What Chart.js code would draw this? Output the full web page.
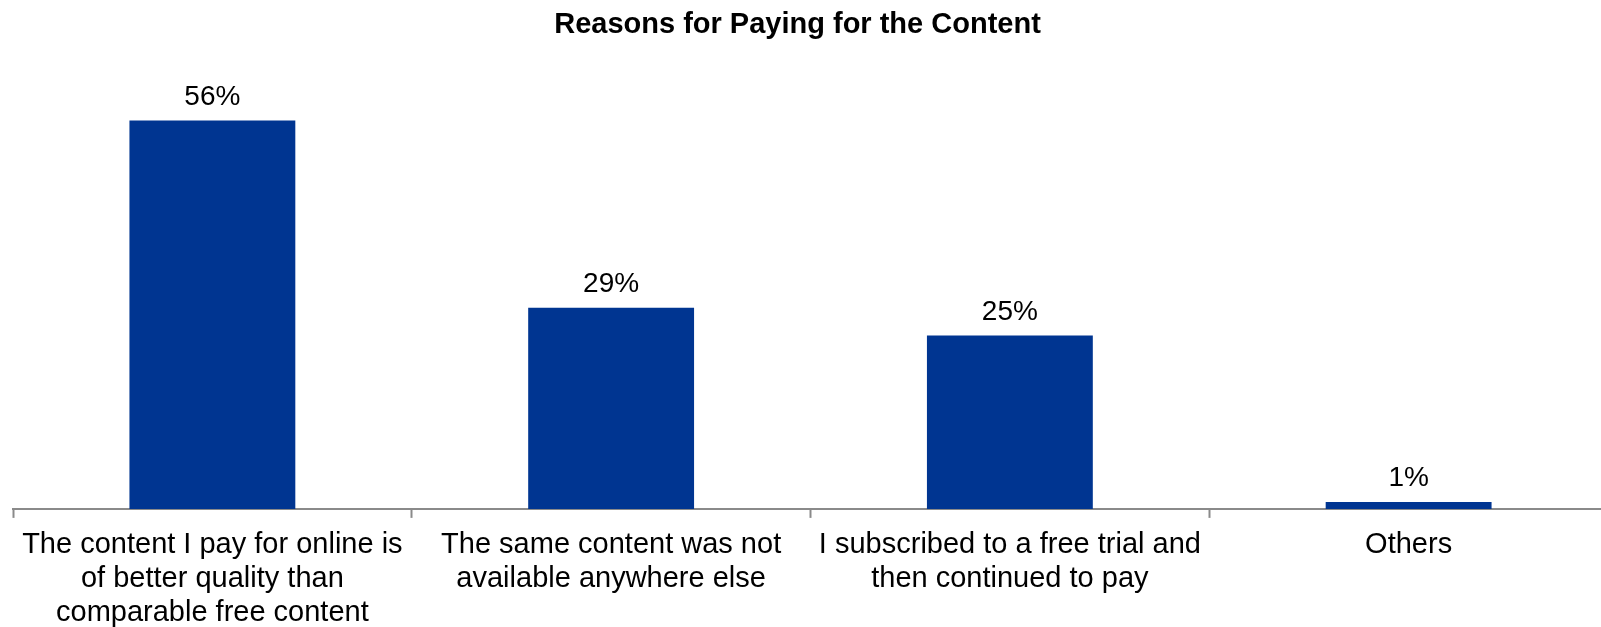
<!DOCTYPE html>
<html>
<head>
<meta charset="utf-8">
<title>Reasons for Paying for the Content</title>
<script src="https://cdn.jsdelivr.net/npm/chart.js@4"></script>
<style>
    html, body { margin: 0; padding: 0; background: #fff; overflow: hidden; }
    #wrap { width: 1620px; height: 640px; }
</style>
</head>
<body>
<div id="wrap"><canvas id="chart"></canvas></div>
<script>
var chartTitle = "Reasons for Paying for the Content";
var reasons = [
    ["The content I pay for online is", "of better quality than", "comparable free content"],
    ["The same content was not", "available anywhere else"],
    ["I subscribed to a free trial and", "then continued to pay"],
    ["Others"]
];
var shares = [56, 29, 25, 1];

var barColor = "#003591";
var axisColor = "#8a8a8a";
var fontFamily = "'Liberation Sans', Arial, sans-serif";

// writes the percentage above each bar
var valueLabels = {
    id: 'valueLabels',
    afterLayout: function (chart) {
        // title sits a little left of the plot centre
        if (chart.titleBlock) {
            chart.titleBlock.right -= 26;
        }
    },
    afterDatasetsDraw: function (chart) {
        var ctx = chart.ctx;
        var meta = chart.getDatasetMeta(0);
        ctx.save();
        ctx.font = "28px " + fontFamily;
        ctx.fillStyle = "#000";
        ctx.textAlign = "center";
        ctx.textBaseline = "alphabetic";
        meta.data.forEach(function (bar, i) {
            ctx.fillText(shares[i] + "%", bar.x, bar.y - 16);
        });
        ctx.restore();
    }
};

new Chart("chart", {
    type: "bar",
    data: {
        labels: reasons,
        datasets: [{
            data: shares,
            backgroundColor: barColor,
            borderWidth: 0,
            categoryPercentage: 1,
            barPercentage: 0.416
        }]
    },
    options: {
        responsive: true,
        maintainAspectRatio: false,
        animation: false,
        layout: { padding: { left: 13, right: 12, top: 0, bottom: 0 } },
        plugins: {
            legend: { display: false },
            tooltip: { enabled: false },
            title: {
                display: true,
                text: chartTitle,
                color: "#000",
                font: { family: fontFamily, size: 29, weight: "bold" },
                padding: { top: 8, bottom: 50 }
            }
        },
        scales: {
            x: {
                offset: true,
                border: { display: true, color: axisColor, width: 2 },
                grid: {
                    offset: true,
                    drawOnChartArea: false,
                    drawTicks: true,
                    tickLength: 9,
                    tickWidth: 2,
                    tickColor: axisColor
                },
                ticks: {
                    color: "#000",
                    autoSkip: false,
                    maxRotation: 0,
                    padding: 10.6,
                    font: { family: fontFamily, size: 29, lineHeight: 1.16 }
                }
            },
            y: {
                display: false,
                min: 0,
                max: 60
            }
        }
    },
    plugins: [valueLabels]
});
</script>
</body>
</html>
